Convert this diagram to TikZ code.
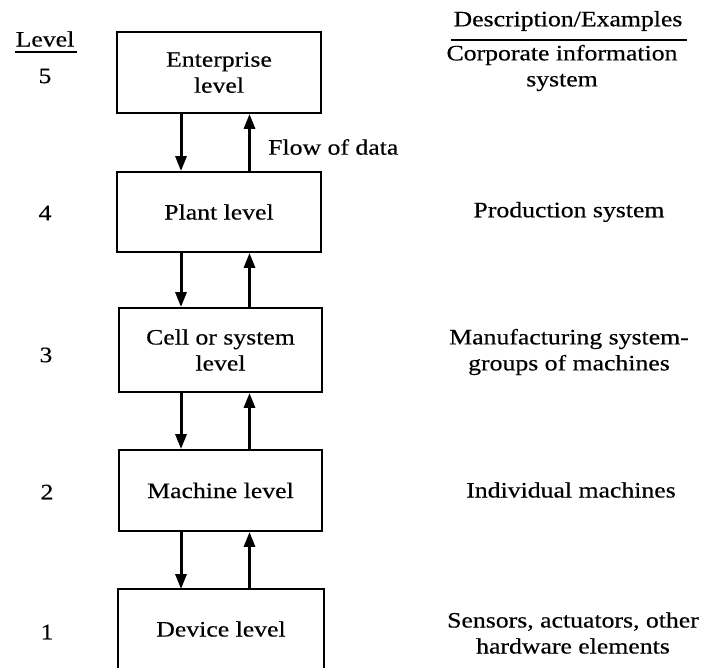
\documentclass[tikz,border=0pt]{standalone}
\usepackage{fontspec}
\setmainfont{Liberation Serif}[FakeStretch=1.17,FakeBold=0.4]
\usetikzlibrary{arrows.meta}
\begin{document}
\begin{tikzpicture}[x=1pt,y=-1pt,
  font=\fontsize{22}{26}\selectfont,
  lvlbox/.style={draw, line width=1.8pt, minimum width=204pt, inner sep=0pt, align=center},
  flowarr/.style={line width=3pt, -{Triangle[length=15pt,width=11pt]}},
  txt/.style={inner sep=0pt, align=center}]
\useasboundingbox (0,0) rectangle (701,668);
% header
\node[txt] (lvlhead) at (45,39) {Level};
\draw[line width=1.3pt] (15,52) coordinate (lhl) -- (77,52) coordinate (lhr);
\node[txt] (deschead) at (568,21) {Description/Examples};
\draw[line width=1.3pt] (451,40) coordinate (dhl) -- (687,40) coordinate (dhr);
% level numbers
\node[txt] (n5) at (45,76) {5};
\node[txt] (n4) at (45,213) {4};
\node[txt] (n3) at (46,355) {3};
\node[txt] (n2) at (47,492) {2};
\node[txt] (n1) at (47,632) {1};
% boxes
\node[lvlbox, minimum height=81pt] (ent) at (219,72.5) {Enterprise\\level};
\node[lvlbox, minimum height=80pt] (plant) at (219,212) {Plant level};
\node[lvlbox, minimum width=203pt, minimum height=84pt] (cell) at (220.5,350) {Cell or system\\level};
\node[lvlbox, minimum width=203pt, minimum height=81pt] (mach) at (220.5,490.5) {Machine level};
\node[lvlbox, draw=none, minimum width=204pt, minimum height=78pt] (dev) at (221,629) {Device level};
\draw[line width=1.8pt] (dev.south west) -- (dev.north west) -- (dev.north east) -- (dev.south east);
% arrow columns
\coordinate (dn) at (181,0);
\coordinate (up) at (249.5,0);
% arrows
\draw[flowarr] (ent.south -| dn) -- (plant.north -| dn);
\draw[flowarr] (plant.north -| up) -- (ent.south -| up);
\draw[flowarr] (plant.south -| dn) -- (cell.north -| dn);
\draw[flowarr] (cell.north -| up) -- (plant.south -| up);
\draw[flowarr] (cell.south -| dn) -- (mach.north -| dn);
\draw[flowarr] (mach.north -| up) -- (cell.south -| up);
\draw[flowarr] (mach.south -| dn) -- (dev.north -| dn);
\draw[flowarr] (dev.north -| up) -- (mach.south -| up);
\node[txt, anchor=west] (flow) at (268,147) {Flow of data};
% descriptions
\node[txt] (d5) at (562,68) {Corporate information\\system};
\node[txt] (d4) at (569,212) {Production system};
\node[txt] (d3) at (569,352) {Manufacturing system-\\groups of machines};
\node[txt] (d2) at (571,490) {Individual machines};
\node[txt] (d1) at (573,633) {Sensors, actuators, other\\hardware elements};
\end{tikzpicture}
\end{document}
